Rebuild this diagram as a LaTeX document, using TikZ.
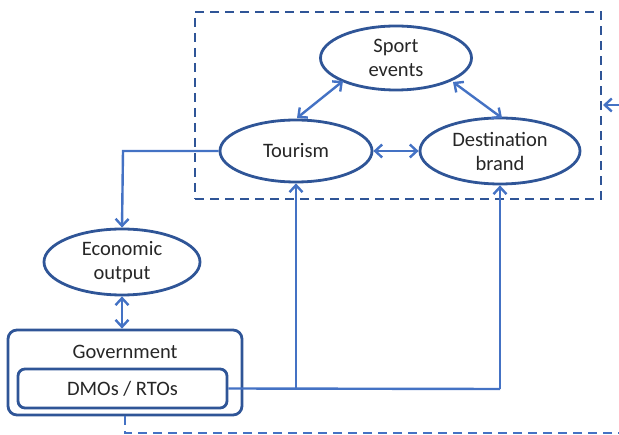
\documentclass[tikz,border=0pt]{standalone}
\usepackage{fontspec}
\setmainfont{Carlito}
\usetikzlibrary{shapes.geometric,arrows.meta}
\definecolor{darkb}{HTML}{2F5597}
\definecolor{lineb}{HTML}{4472C4}
\begin{document}
\begin{tikzpicture}[x=1pt,y=-1pt,
  txt/.style={font=\fontsize{20.5}{24}\selectfont,text=black!85},
  ell/.style={ellipse,draw=darkb,line width=2.8pt,inner sep=0pt,align=center,txt},
  rbox/.style={draw=darkb,line width=2.8pt,rounded corners=9pt,inner sep=0pt},
  conn/.style={draw=lineb,line width=2.4pt},
  tip/.style={-{Straight Barb[length=7pt,width=13pt,line width=2.4pt]}},
  dtip/.style={{Straight Barb[length=7pt,width=13pt,line width=2.4pt]}-{Straight Barb[length=7pt,width=13pt,line width=2.4pt]}},
  dashbox/.style={draw=darkb,line width=2.8pt,dash pattern=on 9pt off 6pt},
  dashline/.style={draw=lineb,line width=2.4pt,dash pattern=on 9pt off 6pt}]
\useasboundingbox (0,0) rectangle (619,435);
% dashed frame
\node[dashbox,minimum width=406pt,minimum height=187pt,inner sep=0pt] (frame) at (398,105.5) {};
% ellipses
\node[ell,minimum width=151pt,minimum height=64pt] (sport) at (396,58) {Sport\\events};
\node[ell,minimum width=152pt,minimum height=62pt] (tour) at (296,151) {Tourism};
\node[ell,minimum width=160pt,minimum height=66pt] (dest) at (500,151) {Destination\\brand};
\node[ell,minimum width=156pt,minimum height=66pt] (econ) at (122,262) {Economic\\output};
% government boxes
\node[rbox,minimum width=234pt,minimum height=85pt] (gov) at (125,372.5) {};
\node[txt] (govt) at (125,352) {Government};
\node[rbox,minimum width=209pt,minimum height=39pt,txt,rounded corners=7pt] (dmo) at (122.5,388.5) {DMOs / RTOs};
% connectors
\coordinate (c1) at (123,151);
\coordinate (c2) at (296,389);
\coordinate (c3) at (500,389);
\coordinate (s1) at (343,81);
\coordinate (t1) at (297,118);
\coordinate (s2) at (453,82);
\coordinate (b1) at (502,118);
\draw[conn,tip] (tour.west) -- (c1) -- (econ.north);
\draw[conn,dtip] (econ.south) -- (econ.south |- gov.north);
\draw[conn] (dmo.east) -- (c3);
\draw[conn,tip] (c2) -- (tour.south);
\draw[conn,tip] (c3) -- (dest.south);
\draw[conn,dtip] (s1) -- (t1);
\draw[conn,dtip] (s2) -- (b1);
\draw[conn,dtip] (tour.east) -- (dest.west);
% dashed feedback line
\coordinate (d1) at (125,433);
\coordinate (d2) at (625,433);
\draw[dashline] (gov.south -| d1) -- (d1) -- (d2);
\coordinate (a0) at (625,105);
\coordinate (a1) at (603,105);
\draw[conn,tip] (a0) -- (a1);
\end{tikzpicture}
\end{document}
